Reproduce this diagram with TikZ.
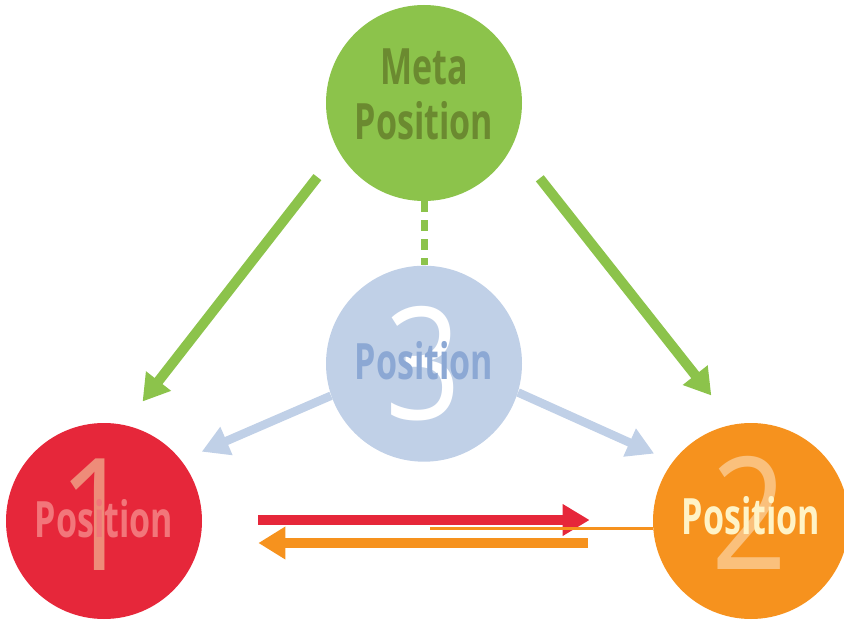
\documentclass[tikz,border=0pt]{standalone}
\usepackage{fontspec}
\setmainfont{Open Sans}[FakeStretch=0.72]
\newfontfamily\labelfont{Open Sans}[FakeStretch=0.68]
\newfontfamily\digitfont{Open Sans}[FakeStretch=0.85]
\usetikzlibrary{positioning,calc,arrows.meta}
\definecolor{metagreen}{HTML}{8CC34B}
\definecolor{metatext}{HTML}{6B8A30}
\definecolor{onered}{HTML}{E6273A}
\definecolor{onetext}{HTML}{F2767A}
\definecolor{onedigit}{HTML}{EE8C79}
\definecolor{twoorange}{HTML}{F6921E}
\definecolor{twotext}{HTML}{FFF3C6}
\definecolor{twodigit}{HTML}{FAC07C}
\definecolor{threeblue}{HTML}{C0D0E7}
\definecolor{threetext}{HTML}{8CA8D4}

\begin{document}
\begin{tikzpicture}[bubble/.style={circle, minimum size=3.92cm, inner sep=0pt}, postext/.style={font=\labelfont\bfseries\fontsize{28.5}{31}\selectfont, align=center, inner sep=0pt}, digit/.style={font=\digitfont\fontsize{89}{90}\selectfont, inner sep=0pt}]

\useasboundingbox (0,0) rectangle (16.88,12.4);

% POSITIONS

\node [bubble, fill=metagreen] (meta) at (8.48,10.34) {};
\node [postext, text=metatext, yshift=0.17cm] (metalabel) at (meta) {Meta\\Position};

\node [bubble, fill=threeblue, below=1.28cm of meta] (pos3) {};
\node [digit, text=white] (pos3num) at (pos3) {3};
\node [postext, text=threetext, yshift=0.06cm] (pos3label) at (pos3) {Position};

\node [bubble, fill=onered] (pos1) at (2.08,1.98) {};
\node [digit, text=onedigit, xshift=-0.14cm, yshift=0.12cm] (pos1num) at (pos1) {1};
\node [postext, text=onetext, yshift=0.04cm] (pos1label) at (pos1) {Position};

\node [bubble, fill=twoorange] (pos2) at (15.02,1.98) {};
\node [digit, text=twodigit, xshift=-0.04cm, yshift=0.16cm] (pos2num) at (pos2) {2};
\node [postext, text=twotext, yshift=0.1cm] (pos2label) at (pos2) {Position};


% ARROWS

\draw[metagreen, line width=0.2cm, shorten <=0.67cm, shorten >=0.59cm, -{Triangle[length=0.52cm, width=0.6cm]}] (meta.209.6) -- (pos1.78.2);

\draw[metagreen, line width=0.2cm, shorten <=0.86cm, shorten >=0.73cm, -{Triangle[length=0.52cm, width=0.6cm]}] (meta.335.9) -- (pos2.100.9);

\draw[metagreen, line width=0.14cm, dash pattern=on 0.22cm off 0.16cm] (meta.south) -- (pos3.north);

\draw[threeblue, line width=0.17cm, shorten >=0.44cm, -{Triangle[length=0.54cm, width=0.58cm]}] (pos3.199) -- (pos1.38);

\draw[threeblue, line width=0.17cm, shorten >=0.4cm, -{Triangle[length=0.54cm, width=0.58cm]}] (pos3.343) -- (pos2.143);

\draw[onered, line width=0.2cm, shorten <=1.12cm, shorten >=1.26cm, -{Triangle[length=0.54cm, width=0.6cm]}] ($(pos1.east)+(0,0.02)$) -- ($(pos2.west)+(0,0.02)$);

\draw[twoorange, line width=0.06cm] ($(pos2.west)+(0,-0.14)$) -- ++(-4.46,0);

\draw[twoorange, line width=0.2cm, shorten <=1.3cm, shorten >=1.12cm, -{Triangle[length=0.54cm, width=0.62cm]}] ($(pos2.west)+(0,-0.44)$) -- ($(pos1.east)+(0,-0.44)$);

\end{tikzpicture}
\end{document}
